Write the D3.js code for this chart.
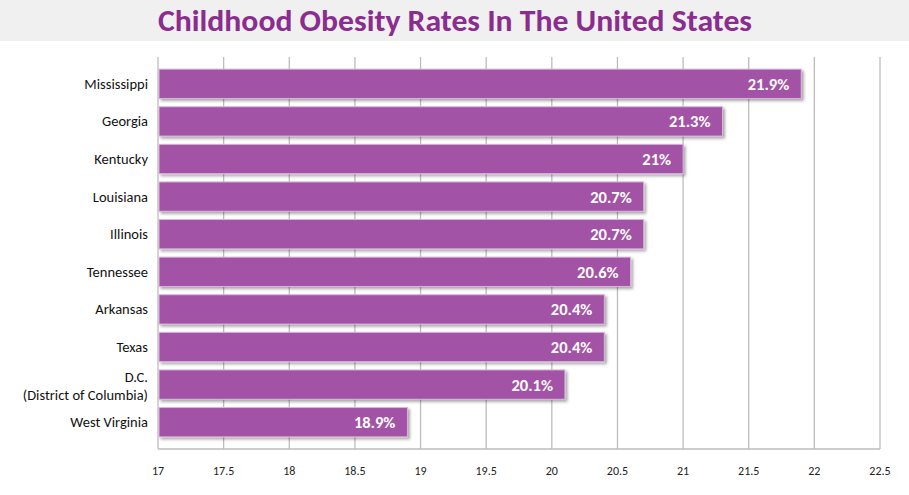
<!DOCTYPE html>
<html>
<head>
<meta charset="utf-8">
<script src="https://cdn.jsdelivr.net/npm/d3@7"></script>
<style>
  body { margin: 0; background: #fff; }
  text { font-family: Calibri, Lato, "Open Sans", sans-serif; }
</style>
</head>
<body>
<div id="chart-area"></div>
<script>
(function () {
  // Chart data
  const states = ["Mississippi", "Georgia", "Kentucky", "Louisiana", "Illinois", "Tennessee", "Arkansas", "Texas", "D.C.|(District of Columbia)", "West Virginia"];
  const rates = [21.9, 21.3, 21, 20.7, 20.7, 20.6, 20.4, 20.4, 20.1, 18.9];
  const ticks = [17, 17.5, 18, 18.5, 19, 19.5, 20, 20.5, 21, 21.5, 22, 22.5];

  const width = 909, height = 495;
  const svg = d3.select("#chart-area").append("svg")
    .attr("width", width).attr("height", height);

  // Title band
  svg.append("rect").attr("width", width).attr("height", 41).attr("fill", "#f0f0f0");
  svg.append("text").attr("x", 455).attr("y", 31).attr("text-anchor", "middle")
    .attr("fill", "#8b2c8f").attr("font-size", 31).attr("font-weight", "bold")
    .attr("textLength", 594).attr("lengthAdjust", "spacingAndGlyphs")
    .text("Childhood Obesity Rates In The United States");

  const x = d3.scaleLinear().domain([17, 22.5]).range([158, 880]);
  const y = d3.scaleBand().domain(states).range([65, 441]).paddingInner(0.22).paddingOuter(0.11);

  const defs = svg.append("defs");
  const f = defs.append("filter").attr("id", "shadow").attr("x", "-5%").attr("y", "-20%").attr("width", "110%").attr("height", "150%");
  f.append("feDropShadow").attr("dx", 2).attr("dy", 2).attr("stdDeviation", 1.5).attr("flood-color", "#000").attr("flood-opacity", 0.35);

  // Gridlines
  svg.append("g").selectAll("line").data(ticks).join("line")
    .attr("x1", d => x(d)).attr("x2", d => x(d))
    .attr("y1", 57).attr("y2", 449)
    .attr("stroke", "#bdbdbd").attr("stroke-width", 1.3);
  svg.append("line").attr("x1", x(17)).attr("x2", x(22.5)).attr("y1", 449).attr("y2", 449)
    .attr("stroke", "#bdbdbd").attr("stroke-width", 1.3);

  // Tick labels
  svg.append("g").selectAll("text").data(ticks).join("text")
    .attr("x", d => x(d)).attr("y", 475).attr("text-anchor", "middle")
    .attr("font-size", 12).attr("fill", "#222").text(d => d);

  // Bars
  svg.append("g").selectAll("rect").data(rates).join("rect")
    .attr("x", x(17) + 1).attr("y", (d, i) => y(states[i]))
    .attr("width", d => x(d) - x(17) - 1).attr("height", y.bandwidth())
    .attr("fill", "#a352a6").attr("stroke", "#d7b6d9").attr("stroke-width", 1)
    .attr("filter", "url(#shadow)");

  // Value labels
  svg.append("g").selectAll("text").data(rates).join("text")
    .attr("x", d => x(d) - 12).attr("y", (d, i) => y(states[i]) + y.bandwidth() / 2 + 6)
    .attr("text-anchor", "end").attr("fill", "#fff").attr("font-size", 16.5).attr("font-weight", "bold")
    .text(d => d + "%");

  // Category labels
  const cat = svg.append("g").selectAll("text").data(states).join("text")
    .attr("text-anchor", "end").attr("font-size", 14.5).attr("fill", "#111")
    .attr("y", d => y(d) + y.bandwidth() / 2 + 5);
  cat.each(function (d) {
    const parts = d.split("|");
    const t = d3.select(this);
    parts.forEach((p, j) => {
      t.append("tspan").attr("x", 148)
        .attr("dy", j === 0 ? (parts.length > 1 ? -8 : 0) : 18).text(p);
    });
  });
})();
</script>
</body>
</html>
